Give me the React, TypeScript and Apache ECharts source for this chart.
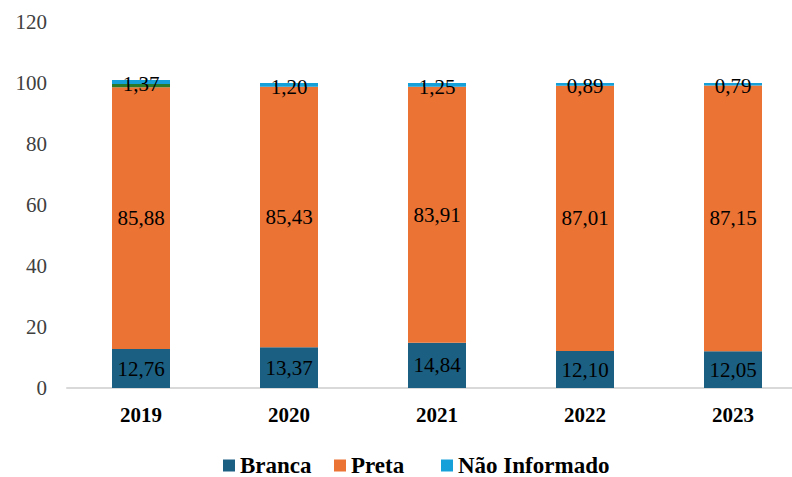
import React, { useEffect, useRef } from "react";
import * as echarts from "echarts";

const categories = ["2019", "2020", "2021", "2022", "2023"];
const branca = [12.76, 13.37, 14.84, 12.1, 12.05];
const preta = [85.88, 85.43, 83.91, 87.01, 87.15];
const outros = [1.0, 0, 0, 0, 0];
const naoInformado = [1.37, 1.2, 1.25, 0.89, 0.79];
const legendNames = ["Branca", "Preta", "Não Informado"];
const yTicks = { min: 0, max: 120, interval: 20 };

const fmt = (v: number) => v.toFixed(2).replace(".", ",");
const FONT = "'Liberation Serif', 'Times New Roman', serif";

export default function App() {
  const ref = useRef<HTMLDivElement>(null);
  useEffect(() => {
    if (!ref.current) return;
    const chart = echarts.init(ref.current, undefined, { renderer: "svg" });
    const labelStyle = {
      show: true,
      position: "inside" as const,
      fontFamily: FONT,
      fontSize: 21,
      color: "#000",
      formatter: (p: any) => fmt(p.value),
    };
    const legendLefts = [223, 334, 441];
    chart.setOption({
      animation: false,
      textStyle: { fontFamily: FONT },
      grid: { left: 67, top: 22, width: 740, height: 366, containLabel: false },
      legend: legendNames.map((n, i) => ({
        top: 454,
        left: legendLefts[i],
        padding: 0,
        itemWidth: 12,
        itemHeight: 12,
        itemGap: 0,
        icon: "rect",
        data: [n],
        textStyle: {
          fontFamily: FONT,
          fontSize: 23,
          lineHeight: 21,
          fontWeight: "bold",
          color: "#000",
        },
      })),
      xAxis: {
        type: "category",
        data: categories,
        axisLine: { lineStyle: { color: "#d9d9d9", width: 2 } },
        axisTick: { show: false },
        axisLabel: {
          fontFamily: FONT,
          fontSize: 21,
          fontWeight: "bold",
          color: "#000",
          margin: 16,
        },
      },
      yAxis: {
        type: "value",
        min: yTicks.min,
        max: yTicks.max,
        interval: yTicks.interval,
        splitLine: { show: false },
        axisLine: { show: false },
        axisTick: { show: false },
        axisLabel: { fontFamily: FONT, fontSize: 21, color: "#404040", margin: 20 },
      },
      series: [
        {
          name: "Branca",
          type: "bar",
          stack: "t",
          barWidth: 58,
          data: branca,
          itemStyle: { color: "#1b5f82" },
          label: labelStyle,
        },
        {
          name: "Preta",
          type: "bar",
          stack: "t",
          data: preta,
          itemStyle: { color: "#eb7334" },
          label: labelStyle,
        },
        {
          name: "Outros",
          type: "bar",
          stack: "t",
          data: outros,
          itemStyle: { color: "#2b7a2b" },
          label: { show: false },
        },
        {
          name: "Não Informado",
          type: "bar",
          stack: "t",
          data: naoInformado,
          itemStyle: { color: "#16a0da" },
          label: { ...labelStyle, offset: [0, 2] },
        },
      ],
    });
    return () => chart.dispose();
  }, []);
  return (
    <div
      ref={ref}
      style={{ position: "fixed", left: 0, top: 0, width: 810, height: 477, background: "#fff" }}
    />
  );
}
